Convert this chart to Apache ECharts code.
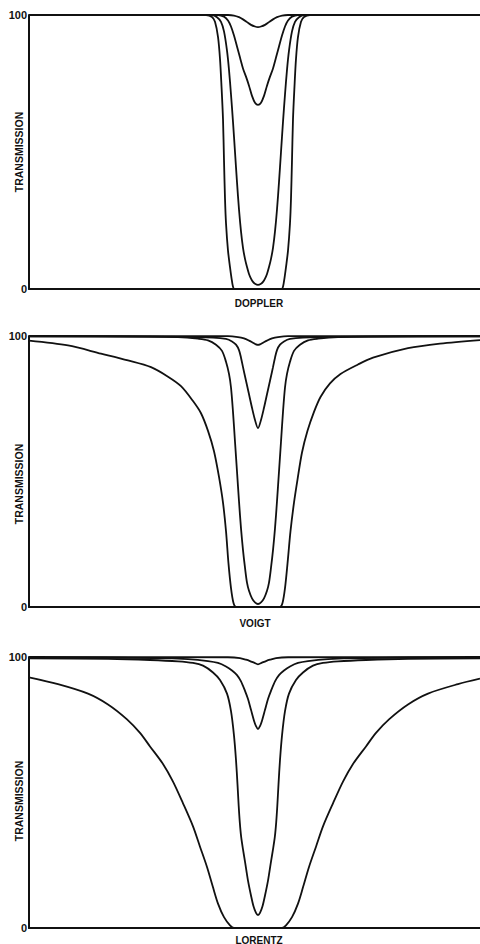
<!DOCTYPE html>
<html>
<head>
<meta charset="utf-8">
<script src="https://cdn.jsdelivr.net/npm/echarts@6/dist/echarts.min.js"></script>
<style>
html,body{margin:0;padding:0;background:#fff;}
#chart{width:480px;height:944px;}
</style>
</head>
<body>
<div id="chart"></div>
<script>
// Frequency offset from line centre (arbitrary units) and transmission (%)
const freqMin = -229, freqMax = 222;
const yTicks = [0, 100];
const panelNames = ['DOPPLER', 'VOIGT', 'LORENTZ'];
const yAxisTitle = 'TRANSMISSION';

const dopplerWeak = [[-229,100],[-30,100],[-24,99.8],[-19,99.2],[-15,98.4],[-11,97.4],[-7,96.4],[-3,95.8],[0,95.6],[3,95.8],[7,96.4],[11,97.4],[15,98.4],[19,99.2],[24,99.8],[30,100],[222,100]];
const dopplerMedium = [[-229,100],[-40,100],[-34,99.4],[-30,98],[-27,95.8],[-24,92.5],[-21,88.5],[-18,84.5],[-15,80.5],[-12,77.5],[-9,74.2],[-6,70.5],[-3,68],[0,67.2],[3,68],[6,70.5],[9,74.2],[12,77.5],[15,80.5],[18,84.5],[21,88.5],[24,92.5],[27,95.8],[30,98],[34,99.4],[40,100],[222,100]];
const dopplerDeep = [[-229,100],[-46,100],[-41,99.2],[-37,97.5],[-34,94],[-31,87],[-29,80],[-27,71],[-25,61],[-23,50],[-21,39],[-19,29],[-17,21],[-15,15],[-13,11],[-11,8],[-9,5.5],[-7,3.8],[-5,2.6],[-3,1.9],[0,1.5],[3,1.9],[5,2.6],[7,3.8],[9,5.5],[11,8],[13,11],[15,15],[17,21],[19,29],[21,39],[23,50],[25,61],[27,71],[29,80],[31,87],[34,94],[37,97.5],[41,99.2],[46,100],[222,100]];
const dopplerSaturated = [[-229,100],[-52,100],[-46,99.3],[-43,97.5],[-40,92],[-38,84],[-36.5,74],[-35,62],[-34,47],[-33,33],[-32,24],[-30,14],[-28,8],[-26.5,4],[-25,0.8],[-23.5,0],[0,0],[23.5,0],[25,0.8],[26.5,4],[28,8],[30,14],[32,24],[33,33],[34,47],[35,62],[36.5,74],[38,84],[40,92],[43,97.5],[46,99.3],[52,100],[222,100]];

const voigtWeak = [[-229,100],[-30,99.95],[-20,99.6],[-14,99.1],[-9,98.3],[-5,97.5],[-2,96.9],[0,96.7],[2,96.9],[5,97.5],[9,98.3],[14,99.1],[20,99.6],[30,99.95],[222,100]];
const voigtMedium = [[-229,99.9],[-80,99.7],[-45,99.4],[-32,98.9],[-26,98],[-22,96.8],[-19,94.8],[-17,92],[-15,88.5],[-12,83.5],[-9,78.5],[-6,73.5],[-3,69],[0,66],[3,69],[6,73.5],[9,78.5],[12,83.5],[15,88.5],[17,92],[19,94.8],[22,96.8],[26,98],[32,98.9],[45,99.4],[80,99.7],[222,99.9]];
const voigtDeep = [[-229,99.9],[-110,99.8],[-80,99.6],[-60,99],[-50,98.4],[-42,96.8],[-36,94.5],[-32,90.5],[-29,86],[-27,81],[-25,72],[-23,61],[-21,50],[-19,39],[-17,29],[-15,21],[-13,14.5],[-11,9],[-9,6],[-6,3.2],[-3,1.7],[0,1.1],[3,1.7],[6,3.2],[9,6],[11,9],[13,14.5],[15,21],[17,29],[19,39],[21,50],[23,61],[25,72],[27,81],[29,86],[32,90.5],[36,94.5],[42,96.8],[50,98.4],[60,99],[80,99.6],[110,99.8],[222,99.9]];
const voigtSaturated = [[-229,98.3],[-190,96.5],[-157,93.5],[-130,91],[-107,88.5],[-90,85],[-77,81.5],[-65,76],[-57,71.5],[-50,65],[-44,57.5],[-39,48],[-35,38.5],[-32,28],[-29.5,16],[-27,7],[-24.5,1.5],[-22,0],[22,0],[24.5,1.5],[27,7],[29.5,16],[32.5,28],[36,38.5],[39.5,47],[44,57],[49.5,65],[56,72],[62.5,77.5],[72,82.5],[82.5,86],[100,89.5],[115,92],[150,95.5],[182,97.2],[222,98.5]];

const lorentzWeak = [[-229,100],[-30,99.9],[-18,99.6],[-12,99],[-8,98.5],[-4,97.9],[0,97.3],[4,97.9],[8,98.5],[12,99],[18,99.6],[30,99.9],[222,100]];
const lorentzMedium = [[-229,99.8],[-100,99.6],[-70,99.2],[-50,98.5],[-40,97.8],[-32,96.5],[-26,95],[-21,93.3],[-17,91],[-13,87.5],[-10,84.5],[-7,80.5],[-4,76.5],[-2,74.5],[0,73.4],[2,74.5],[4,76.5],[7,80.5],[10,84.5],[13,87.5],[17,91],[21,93.3],[26,95],[32,96.5],[40,97.8],[50,98.5],[70,99.2],[100,99.6],[222,99.8]];
const lorentzDeep = [[-229,99.5],[-150,99.3],[-108,98.9],[-80,98.4],[-65,97.8],[-55,96.8],[-45,94.3],[-38,91.5],[-31,86.5],[-27,80],[-24,71],[-22,62],[-20.5,53],[-19.3,45],[-18.2,39],[-16.8,33.5],[-15,29],[-13,24.5],[-10,17.5],[-7,12],[-4.5,8],[-2,5.6],[0,4.8],[2,5.6],[4.5,8],[7,12],[10,17.5],[13,24.5],[15,29],[16.8,33.5],[18.2,39],[19.3,45],[20.5,53],[22,62],[24,71],[27,80],[31,86.5],[38,91.5],[45,94.3],[55,96.8],[65,97.8],[80,98.4],[108,98.9],[150,99.3],[222,99.5]];
const lorentzSaturated = [[-229,92.5],[-200,90],[-170,86.5],[-150,82.5],[-131,77],[-118,72],[-108,67],[-95,60.5],[-85,54],[-75,46],[-65,37.5],[-58,30],[-51,22.5],[-45,15],[-40,9],[-34,4],[-28,1],[-24,0],[24,0],[28,1],[34,4],[40,9],[45,15],[51,22.5],[58,30],[65,37.5],[75,46],[85,54],[95,60.5],[108,67],[118,72],[131,77],[150,82.5],[170,86.5],[200,90],[222,92]];

const panelCurves = [
  [dopplerWeak, dopplerMedium, dopplerDeep, dopplerSaturated],
  [voigtWeak, voigtMedium, voigtDeep, voigtSaturated],
  [lorentzWeak, lorentzMedium, lorentzDeep, lorentzSaturated]
];

// Layout (pixels)
const grids = [
  {left: 29, top: 15, width: 451, height: 274},
  {left: 29, top: 336, width: 451, height: 271},
  {left: 29, top: 657, width: 451, height: 271}
];
const nameSpots = [[259, 303], [255, 623], [259, 940]];
const titleSpots = [[19, 152], [19, 484], [19, 801]];
const FONT = "'Liberation Sans', Arial, Helvetica, sans-serif";
const INK = '#111';

const option = {
  animation: false,
  backgroundColor: '#fff',
  grid: grids,
  xAxis: grids.map((g, i) => ({
    type: 'value', gridIndex: i, min: freqMin, max: freqMax,
    axisLine: {show: true, onZero: false, lineStyle: {color: INK, width: 2}},
    axisTick: {show: false}, axisLabel: {show: false}, splitLine: {show: false}
  })),
  yAxis: grids.map((g, i) => ({
    type: 'value', gridIndex: i, min: yTicks[0], max: yTicks[1], interval: yTicks[1] - yTicks[0],
    axisLine: {show: true, onZero: false, lineStyle: {color: INK, width: 2}},
    axisTick: {show: false}, splitLine: {show: false},
    axisLabel: {show: true, margin: 2, color: INK, fontWeight: 'bold', fontSize: 11, fontFamily: FONT}
  })),
  series: [],
  graphic: []
};

panelCurves.forEach((curves, i) => {
  curves.forEach(c => {
    option.series.push({
      type: 'line', xAxisIndex: i, yAxisIndex: i, data: c,
      symbol: 'none', showSymbol: false, smooth: 0.3,
      lineStyle: {color: INK, width: 1.8}, silent: true
    });
  });
  option.graphic.push({
    type: 'text', x: nameSpots[i][0], y: nameSpots[i][1],
    style: {text: panelNames[i], font: 'bold 10px ' + FONT, fill: INK,
      textAlign: 'center', textVerticalAlign: 'middle', align: 'center', verticalAlign: 'middle'}
  });
  option.graphic.push({
    type: 'text', x: titleSpots[i][0], y: titleSpots[i][1], rotation: Math.PI / 2,
    style: {text: yAxisTitle, font: 'bold 10.5px ' + FONT, fill: INK,
      textAlign: 'center', textVerticalAlign: 'middle', align: 'center', verticalAlign: 'middle'}
  });
});

const chart = echarts.init(document.getElementById('chart'), null, {renderer: 'svg'});
chart.setOption(option);
</script>
</body>
</html>
